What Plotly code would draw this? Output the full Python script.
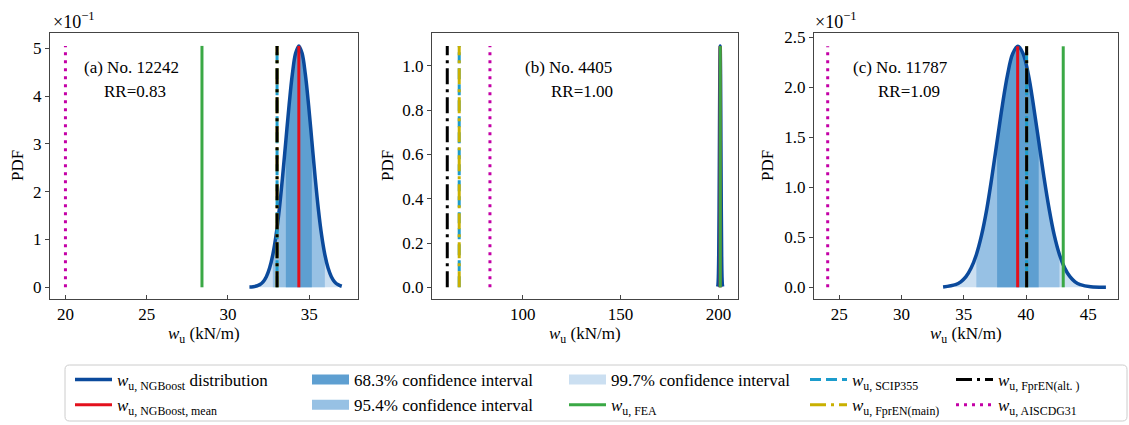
import plotly.graph_objects as go

FONT = "Liberation Serif"
W, H = 1129, 425

# ---------------- data ----------------
# Panel (a) No. 12242, RR=0.83  (PDF in units of 1e-1)
a_x = [31.32, 31.56, 31.96, 32.16, 32.36, 32.56, 32.76, 32.96, 33.16, 33.36, 33.56, 33.76, 33.96, 34.16,
       34.36, 34.56, 34.76, 34.96, 35.16, 35.36, 35.56, 35.76, 35.96, 36.16, 36.36, 36.56, 36.76, 37.00]
a_y = [0.004, 0.011, 0.056, 0.115, 0.222, 0.402, 0.683, 1.092, 1.639, 2.312, 3.063, 3.812, 4.457, 4.894,
       5.05, 4.894, 4.457, 3.812, 3.063, 2.312, 1.639, 1.092, 0.683, 0.402, 0.222, 0.115, 0.056, 0.022]
a_ci = {"68.3": (33.56, 35.16), "95.4": (32.76, 35.96), "99.7": (31.96, 36.76)}
a_mean, a_fea, a_scip, a_fpren_main, a_fpren_alt, a_aisc = 34.36, 28.40, 33.02, 33.02, 33.02, 20.0
a_top = 5.05

# Panel (b) No. 4405, RR=1.00
b_x = [199.605, 199.79, 199.975, 200.16, 200.345, 200.53, 200.715, 200.9,
       201.085, 201.27, 201.455, 201.64, 201.825, 202.01, 202.195]
b_y = [0.0024, 0.0121, 0.0479, 0.1475, 0.3539, 0.6611, 0.9619, 1.09,
       0.9619, 0.6611, 0.3539, 0.1475, 0.0479, 0.0121, 0.0024]
b_ci = {"68.3": (200.53, 201.27), "95.4": (200.16, 201.64), "99.7": (199.79, 202.01)}
b_mean, b_fea, b_scip, b_fpren_main, b_fpren_alt, b_aisc = 200.9, 200.95, 67.6, 67.6, 61.5, 83.3
b_top = 1.09

# Panel (c) No. 11787, RR=1.09  (PDF in units of 1e-1)
c_x = [33.34, 34.34, 34.76, 35.18, 35.59, 36.01, 36.43, 36.85, 37.26, 37.68, 38.10, 38.52, 38.93, 39.35,
       39.77, 40.19, 40.60, 41.02, 41.44, 41.86, 42.27, 42.69, 43.11, 43.53, 43.94, 44.36, 45.20, 46.42]
c_y = [0.004, 0.027, 0.055, 0.106, 0.192, 0.326, 0.521, 0.782, 1.103, 1.462, 1.819, 2.127, 2.336, 2.41,
       2.336, 2.127, 1.819, 1.462, 1.103, 0.782, 0.521, 0.326, 0.192, 0.106, 0.055, 0.027, 0.005, 0.0003]
c_ci = {"68.3": (37.68, 41.02), "95.4": (36.01, 42.69), "99.7": (34.34, 44.36)}
c_mean, c_fea, c_scip, c_fpren_main, c_fpren_alt, c_aisc = 39.33, 42.99, 40.05, 40.05, 40.05, 24.07
c_top = 2.41

panel_titles = ["(a) No. 12242", "(b) No. 4405", "(c) No. 11787"]
panel_rr = ["RR=0.83", "RR=1.00", "RR=1.09"]

a_ticks = [20, 25, 30, 35]
b_ticks = [100, 150, 200]
c_ticks = [25, 30, 35, 40, 45]
a_yticks = [0, 1, 2, 3, 4, 5]
b_yticks = [0.0, 0.2, 0.4, 0.6, 0.8, 1.0]
c_yticks = [0.0, 0.5, 1.0, 1.5, 2.0, 2.5]

# ---------------- styles ----------------
C_BLUE = "#0b4a9c"
C_RED = "#e3101c"
C_GREEN = "#3aa845"
C_CYAN = "#1c9ccc"
C_YELLOW = "#c9b000"
C_BLACK = "#000000"
C_MAG = "#c400a6"
C_68 = "#5e9fd1"
C_95 = "#97c1e4"
C_99 = "#cbdff1"

DASH_SCIP = "11px,5px"
DASH_DD = "16px,5px,3px,5px"
DASH_DOT = "3px,5px"

fig = go.Figure()

panels = [
    ("x", "y", a_x, a_y, a_ci, a_mean, a_fea, a_scip, a_fpren_main, a_fpren_alt, a_aisc, a_top),
    ("x2", "y2", b_x, b_y, b_ci, b_mean, b_fea, b_scip, b_fpren_main, b_fpren_alt, b_aisc, b_top),
    ("x3", "y3", c_x, c_y, c_ci, c_mean, c_fea, c_scip, c_fpren_main, c_fpren_alt, c_aisc, c_top),
]

for xa, ya, cx, cy, ci, mean, fea, scip, fmain, falt, aisc, top in panels:
    for key, col in (("99.7", C_99), ("95.4", C_95), ("68.3", C_68)):
        lo, hi = ci[key]
        sx = [x for x in cx if lo - 1e-9 <= x <= hi + 1e-9]
        sy = [y for x, y in zip(cx, cy) if lo - 1e-9 <= x <= hi + 1e-9]
        fig.add_trace(go.Scatter(x=sx, y=sy, mode="lines", fill="tozeroy", fillcolor=col,
                                 line=dict(width=0, shape="spline"), xaxis=xa, yaxis=ya,
                                 showlegend=False, hoverinfo="skip"))
    fig.add_trace(go.Scatter(x=cx, y=cy, mode="lines", line=dict(color=C_BLUE, width=3.5, shape="spline"),
                             xaxis=xa, yaxis=ya, showlegend=False))
    vlines = [(mean, C_RED, "solid"), (fea, C_GREEN, "solid"), (scip, C_CYAN, DASH_SCIP),
              (fmain, C_YELLOW, DASH_DD), (falt, C_BLACK, DASH_DD), (aisc, C_MAG, DASH_DOT)]
    for v, col, dash in vlines:
        fig.add_trace(go.Scatter(x=[v, v], y=[0, top], mode="lines", line=dict(color=col, width=3, dash=dash),
                                 xaxis=xa, yaxis=ya, showlegend=False))

# ---------------- legend (dummy entries) ----------------
leg_items = [
    ("legend", "<i>w</i><sub>u, NGBoost</sub> distribution", C_BLUE, 3.5, "solid"),
    ("legend", "<i>w</i><sub>u, NGBoost, mean</sub>", C_RED, 3, "solid"),
    ("legend2", "68.3% confidence interval", C_68, 12, "solid"),
    ("legend2", "95.4% confidence interval", C_95, 12, "solid"),
    ("legend3", "99.7% confidence interval", C_99, 12, "solid"),
    ("legend3", "<i>w</i><sub>u, FEA</sub>", C_GREEN, 3, "solid"),
    ("legend4", "<i>w</i><sub>u, SCIP355</sub>", C_CYAN, 3, DASH_SCIP),
    ("legend4", "<i>w</i><sub>u, FprEN(main)</sub>", C_YELLOW, 3, DASH_DD),
    ("legend5", "<i>w</i><sub>u, FprEN(alt. )</sub>", C_BLACK, 3, DASH_DD),
    ("legend5", "<i>w</i><sub>u, AISCDG31</sub>", C_MAG, 3, DASH_DOT),
]
for lg, name, col, lw, dash in leg_items:
    fig.add_trace(go.Scatter(x=[None], y=[None], mode="lines", name=name,
                             line=dict(color=col, width=lw, dash=dash), legend=lg, showlegend=True))

def px(v):
    return v / W

def py(v):
    return 1 - v / H

leg_common = dict(orientation="v", xanchor="left", yanchor="top", bgcolor="rgba(0,0,0,0)",
                  borderwidth=0, font=dict(family=FONT, size=17, color="black"), tracegroupgap=0,
                  traceorder="normal", itemwidth=37)
leg_x = [70, 307, 564, 805, 951]
legs = {}
for i, lx in enumerate(leg_x):
    name = "legend" if i == 0 else f"legend{i+1}"
    legs[name] = dict(leg_common, x=px(lx), y=py(362))

# ---------------- axes ----------------
axis_common = dict(showgrid=False, zeroline=False, showline=True, mirror=True, linecolor="#444",
                   linewidth=1, tickfont=dict(family=FONT, size=17, color="black"),
                   tickcolor="#444", ticklen=4, tickwidth=1)

layout = dict(
    width=W, height=H, margin=dict(l=0, r=0, t=0, b=0, autoexpand=False),
    paper_bgcolor="white", plot_bgcolor="white",
    font=dict(family=FONT, size=17, color="black"),
    xaxis=dict(axis_common, domain=[px(50), px(358)], range=[19.05, 38.0], tickvals=a_ticks,
               ticks="inside", anchor="y"),
    yaxis=dict(axis_common, domain=[py(299), py(33)], range=[-0.245, 5.32], tickvals=a_yticks,
               ticks="outside", anchor="x"),
    xaxis2=dict(axis_common, domain=[px(432), px(738)], range=[53.7, 210.0], tickvals=b_ticks,
                ticks="inside", anchor="y2"),
    yaxis2=dict(axis_common, domain=[py(299), py(33)], range=[-0.053, 1.149], tickvals=b_yticks,
                tickformat=".1f", ticks="outside", anchor="x2"),
    xaxis3=dict(axis_common, domain=[px(814), px(1118)], range=[22.97, 47.39], tickvals=c_ticks,
                ticks="inside", anchor="y3"),
    yaxis3=dict(axis_common, domain=[py(299), py(33)], range=[-0.117, 2.543], tickvals=c_yticks,
                tickformat=".1f", ticks="outside", anchor="x3"),
    showlegend=True,
)
layout.update(legs)
fig.update_layout(**layout)

# ---------------- annotations ----------------
ann = []
def text(x, y, t, xanchor="left", size=17, angle=0):
    ann.append(dict(x=px(x), y=py(y), xref="paper", yref="paper", text=t, showarrow=False,
                    xanchor=xanchor, yanchor="middle", textangle=angle,
                    font=dict(family=FONT, size=size, color="black")))

text(82, 67, panel_titles[0]); text(102, 91, panel_rr[0])
text(523, 67, panel_titles[1]); text(549, 91, panel_rr[1])
text(851, 67, panel_titles[2]); text(876, 91, panel_rr[2])
for cxp in (204, 585, 966):
    text(cxp, 335, "<i>w</i><sub>u</sub> (kN/m)", xanchor="center")
for cxp in (17, 387, 767):
    text(cxp, 166, "PDF", xanchor="center", angle=-90)
text(51, 20, "×10<sup>−1</sup>", size=18)
text(813, 20, "×10<sup>−1</sup>", size=18)
fig.update_layout(annotations=ann)

# legend frame (rounded)
x0, x1, y0, y1, r = px(65), px(1127), py(421), py(365), 0.004
ry = r * W / H
fig.add_shape(type="path", xref="paper", yref="paper",
              path=(f"M {x0+r},{y1} L {x1-r},{y1} Q {x1},{y1} {x1},{y1-ry} L {x1},{y0+ry} "
                    f"Q {x1},{y0} {x1-r},{y0} L {x0+r},{y0} Q {x0},{y0} {x0},{y0+ry} "
                    f"L {x0},{y1-ry} Q {x0},{y1} {x0+r},{y1} Z"),
              line=dict(color="#cccccc", width=1))

fig.write_html("out.html", config={"displayModeBar": False},
               post_script="document.body.style.margin='0px';")
